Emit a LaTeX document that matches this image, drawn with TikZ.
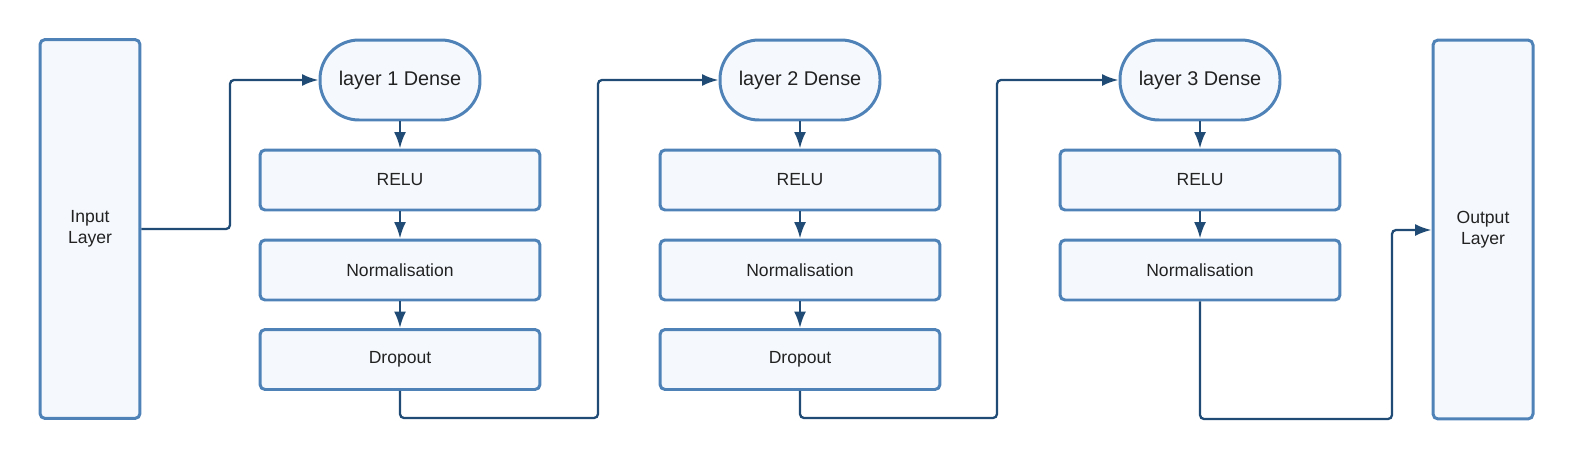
\documentclass[tikz,border=0pt]{standalone}
\usepackage{fontspec}
\setmainfont{Liberation Sans}
\usetikzlibrary{arrows.meta}
\definecolor{bordc}{HTML}{4F83B8}
\definecolor{fillc}{HTML}{F5F9FE}
\definecolor{linec}{HTML}{1F4B75}
\definecolor{txtc}{HTML}{222222}
\tikzset{
  box/.style={draw=bordc, fill=fillc, line width=1.7pt, rounded corners=0.1cm,
    text=txtc, font=\fontsize{10pt}{12pt}\selectfont, align=center, inner sep=0pt},
  layerbox/.style={box, minimum width=2cm, minimum height=7.58cm},
  densebox/.style={box, minimum width=3.2cm, minimum height=1.6cm, rounded corners=0.78cm,
    font=\fontsize{11.3pt}{13pt}\selectfont},
  opbox/.style={box, minimum width=5.6cm, minimum height=1.2cm},
  conn/.style={draw=linec, line width=1.3pt, rounded corners=0.08cm},
  arr/.style={conn, -{Latex[length=3.3mm,width=2.4mm]}}
}
\begin{document}
\begin{tikzpicture}[x=0.02cm,y=-0.02cm]
\useasboundingbox (0,0) rectangle (1575,460);
\node[layerbox] (in) at (90,229) {Input\\Layer};
\node[layerbox] (out) at (1483,229.5) {Output\\Layer};
\node[densebox] (d1) at (400,80) {layer 1 Dense};
\node[opbox] (r1) at (400,180) {RELU};
\node[opbox] (n1) at (400,270) {Normalisation};
\node[opbox] (o1) at (400,359.5) {Dropout};
\node[densebox] (d2) at (800,80) {layer 2 Dense};
\node[opbox] (r2) at (800,180) {RELU};
\node[opbox] (n2) at (800,270) {Normalisation};
\node[opbox] (o2) at (800,359.5) {Dropout};
\node[densebox] (d3) at (1200,80) {layer 3 Dense};
\node[opbox] (r3) at (1200,180) {RELU};
\node[opbox] (n3) at (1200,270) {Normalisation};
\draw[arr] (d1) -- (r1);
\draw[arr] (r1) -- (n1);
\draw[arr] (n1) -- (o1);
\draw[arr] (d2) -- (r2);
\draw[arr] (r2) -- (n2);
\draw[arr] (n2) -- (o2);
\draw[arr] (d3) -- (r3);
\draw[arr] (r3) -- (n3);
\draw[arr] (in.east) -- (230,229) -- (230,80) -- (d1.west);
\draw[arr] (o1.south) -- (400,418) -- (598,418) -- (598,80) -- (d2.west);
\draw[arr] (o2.south) -- (800,418) -- (997,418) -- (997,80) -- (d3.west);
\draw[arr] (n3.south) -- (1200,419) -- (1392,419) -- (1392,230) -- (out.west |- 0,230);
\end{tikzpicture}
\end{document}
